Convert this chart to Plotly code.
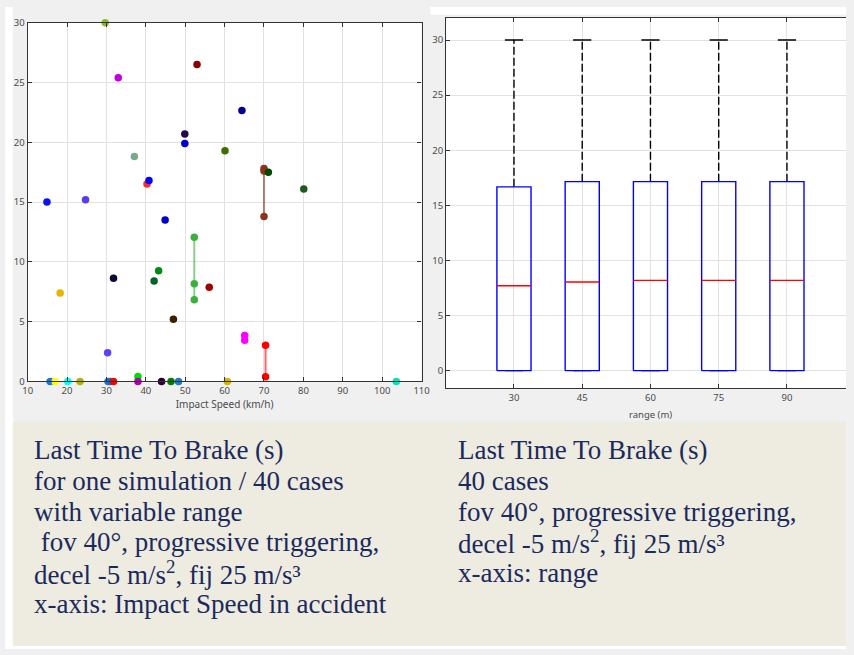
import plotly.graph_objects as go

# ---- Left panel: last time to brake vs impact speed, one trace per case ----
impact_speed = [29.7, 33.0, 53.0, 49.9, 49.9, 37.1, 40.3, 40.8, 14.9, 24.7,
                64.4, 60.1, 70.0, 71.1, 80.1, 44.9, 52.3, 31.8, 43.25, 42.1,
                56.1, 47.0, 65.1, 70.4, 18.25, 30.3, 38.0,
                15.7, 17.0, 20.2, 23.3, 30.4, 31.0, 31.8, 38.0, 44.0, 46.4,
                48.3, 60.7, 103.6]
lttb_values = [[30.0], [25.4], [26.5], [20.7], [19.9], [18.8], [16.5], [16.8],
               [15.0], [15.2], [22.65], [19.3], [17.8, 17.6, 13.8], [17.5],
               [16.1], [13.5], [12.05, 8.17, 6.83], [8.63], [9.26], [8.39],
               [7.87], [5.19], [3.85, 3.44], [3.03, 0.38], [7.4], [2.4], [0.41],
               [0], [0], [0], [0], [0], [0], [0], [0], [0], [0], [0], [0], [0]]
case_colors = ["#8cb82a", "#c000e0", "#8b0000", "#200a4a", "#0000d0", "#78aa8c",
               "#ff2a2a", "#0000ff", "#0a14f0", "#5a3cf0", "#00008c", "#3c6e00",
               "#8c3418", "#004800", "#1e5a1e", "#0000c8", "#3cb03c", "#0a0a32",
               "#008c14", "#006428", "#a00000", "#3c2000", "#ff00ff", "#ff0000",
               "#e8b400", "#5a46f0", "#00e000",
               "#1e78d2", "#ffff00", "#00ffff", "#b4b400", "#1e78d2", "#0a6ed2",
               "#ff0000", "#b400b4", "#2a0032", "#008000", "#1e78c8", "#d8b400",
               "#00e6b4"]
speed_ticks = [10, 20, 30, 40, 50, 60, 70, 80, 90, 100, 110]
lttb_ticks = [0, 5, 10, 15, 20, 25, 30]

# ---- Right panel: box statistics per sensor range ----
ranges = [30, 45, 60, 75, 90]
q1 = [0, 0, 0, 0, 0]
median = [7.7, 8.04, 8.19, 8.19, 8.19]
q3 = [16.68, 17.15, 17.15, 17.15, 17.15]
whisker_low = [0, 0, 0, 0, 0]
whisker_high = [30, 30, 30, 30, 30]

# ---- Caption lines under each panel ----
left_caption = ["Last Time To Brake (s)",
                "for one simulation / 40 cases",
                "with variable range",
                "\u00a0fov 40°, progressive triggering,",
                "decel -5 m/s<sup>2</sup>, fij 25 m/s³",
                "x-axis: Impact Speed in accident"]
right_caption = ["Last Time To Brake (s)",
                 "40 cases",
                 "fov 40°, progressive triggering,",
                 "decel -5 m/s<sup>2</sup>, fij 25 m/s³",
                 "x-axis: range"]

W, H = 854, 655


def px_x(p):
    return p / W


def px_y(p):
    return 1 - p / H


def rgba(hex_color, a):
    h = hex_color.lstrip("#")
    r, g, b = int(h[0:2], 16), int(h[2:4], 16), int(h[4:6], 16)
    return f"rgba({r},{g},{b},{a})"


fig = go.Figure()

for speed, vals, col in zip(impact_speed, lttb_values, case_colors):
    fig.add_trace(go.Scatter(
        x=[speed] * len(vals), y=vals, mode="lines+markers",
        marker=dict(color=col, size=7.5, line=dict(width=0)),
        line=dict(color=rgba(col, 0.6), width=2),
        xaxis="x", yaxis="y", cliponaxis=False, showlegend=False,
        hoverinfo="x+y"))

box_half = 3.75
cap_half = 2.0
for r, lo, a, m, b, hi in zip(ranges, whisker_low, q1, median, q3, whisker_high):
    # whiskers (dashed) and caps
    fig.add_trace(go.Scatter(x=[r, r], y=[b, hi], mode="lines",
                             line=dict(color="#000000", width=1.4, dash="8px,3px"),
                             xaxis="x2", yaxis="y2", showlegend=False))
    fig.add_trace(go.Scatter(x=[r - cap_half, r + cap_half], y=[hi, hi], mode="lines",
                             line=dict(color="#000000", width=1.4),
                             xaxis="x2", yaxis="y2", showlegend=False))
    fig.add_trace(go.Scatter(x=[r - cap_half, r + cap_half], y=[lo, lo], mode="lines",
                             line=dict(color="#000000", width=1.4),
                             xaxis="x2", yaxis="y2", showlegend=False))
    # box
    fig.add_trace(go.Scatter(
        x=[r - box_half, r + box_half, r + box_half, r - box_half, r - box_half],
        y=[a, a, b, b, a], mode="lines",
        line=dict(color="#0000ff", width=1.4),
        xaxis="x2", yaxis="y2", showlegend=False))
    # median
    fig.add_trace(go.Scatter(x=[r - box_half, r + box_half], y=[m, m], mode="lines",
                             line=dict(color="#ff0000", width=1.4),
                             xaxis="x2", yaxis="y2", showlegend=False))

axis_style = dict(
    showgrid=True, gridcolor="#e2e2e2", gridwidth=1,
    showline=True, linecolor="#333333", linewidth=1.3,
    ticks="inside", ticklen=4, tickcolor="#333333", tickwidth=1,
    tickfont=dict(family="Noto Sans", size=9.5, color="#4a4a4a"),
    zeroline=False, fixedrange=True,
)

x2_lo = 15.1
x2_hi = x2_lo + (W - 448) / 4.62

fig.update_layout(
    width=W, height=H, autosize=False,
    margin=dict(l=0, r=0, t=0, b=0),
    paper_bgcolor="#f0f0f0", plot_bgcolor="#ffffff",
    showlegend=False,
    xaxis=dict(axis_style, domain=[px_x(23), px_x(423)], range=[10, 110],
               tickvals=speed_ticks, mirror="ticks", anchor="y",
               title=dict(text="Impact Speed (km/h)", standoff=4,
                          font=dict(family="Noto Sans", size=10, color="#4a4a4a"))),
    yaxis=dict(axis_style, domain=[px_y(382), px_y(16)], range=[0, 30],
               tickvals=lttb_ticks, mirror="ticks", anchor="x"),
    xaxis2=dict(axis_style, domain=[px_x(448), 1], range=[x2_lo, x2_hi],
                tickvals=ranges, mirror="ticks", anchor="y2"),
    yaxis2=dict(axis_style, domain=[px_y(389), px_y(11)], range=[-1.6, 32.02],
                tickvals=lttb_ticks, mirror=False, anchor="x2"),
)

fig.add_annotation(text="range (m)", xref="x2", x=60, yref="paper", y=px_y(416),
                   showarrow=False, yanchor="middle",
                   font=dict(family="Noto Sans", size=9.5, color="#4a4a4a"))

# page background pieces outside the chart panels
shapes = [
    dict(type="rect", xref="paper", yref="paper", x0=0, x1=px_x(8), y0=0, y1=1,
         fillcolor="#ffffff", line=dict(width=0), layer="below"),
    dict(type="rect", xref="paper", yref="paper", x0=px_x(432), x1=1, y0=px_y(8), y1=1,
         fillcolor="#ffffff", line=dict(width=0), layer="below"),
    dict(type="rect", xref="paper", yref="paper", x0=px_x(8), x1=1, y0=px_y(652), y1=px_y(423),
         fillcolor="#eeebe1", line=dict(width=0), layer="below"),
    dict(type="rect", xref="paper", yref="paper", x0=0, x1=1, y0=0, y1=px_y(652),
         fillcolor="#ffffff", line=dict(width=0), layer="below"),
]
fig.update_layout(shapes=shapes)

# caption text, one annotation per line
text_font = dict(family="Liberation Serif", size=27, color="#1b2a5c")
line_step = 31.4
first_line = 452
for x_left, lines in ((27, left_caption), (458, right_caption)):
    for i, line in enumerate(lines):
        fig.add_annotation(text=line, xref="paper", yref="paper",
                           x=px_x(x_left), y=px_y(first_line + i * line_step),
                           xanchor="left", yanchor="middle", align="left",
                           showarrow=False, font=text_font)

fig.write_html(
    "out.html",
    post_script="document.body.style.margin='0';document.body.style.overflow='hidden';",
)
